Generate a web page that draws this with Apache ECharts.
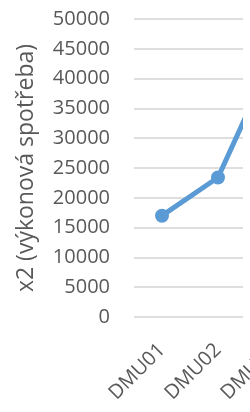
<!DOCTYPE html>
<html>
<head>
<meta charset="utf-8">
<script src="https://cdn.jsdelivr.net/npm/echarts@6/dist/echarts.min.js"></script>
<style>
  html, body { margin: 0; padding: 0; background: #fff; }
  #chart { width: 250px; height: 412px; }
</style>
</head>
<body>
<div id="chart"></div>
<script>
// data
const categories = ['DMU01', 'DMU02', 'DMU03']
const values = [17000, 23400, 44000]
const yTicks = { min: 0, max: 50000, interval: 5000 }
const yName = 'x2 (výkonová spotřeba)'

const font = 'Open Sans'
const gray = '#595959'

const chart = echarts.init(document.getElementById('chart'))
chart.setOption({
  animation: false,
  grid: {
    left: 134,
    top: 19,
    bottom: 95,
    width: 168, // 3 bands of 56px, the last one runs off the picture
    outerBoundsMode: 'none',
    containLabel: false
  },
  xAxis: {
    type: 'category',
    data: categories,
    boundaryGap: true,
    axisLine: { show: false },
    axisTick: { show: false },
    axisLabel: {
      interval: 0,
      rotate: 45,
      margin: 30,
      color: gray,
      fontSize: 20,
      fontFamily: font
    }
  },
  yAxis: {
    type: 'value',
    min: yTicks.min,
    max: yTicks.max,
    interval: yTicks.interval,
    name: yName,
    nameLocation: 'middle',
    nameGap: 96,
    nameTextStyle: {
      color: gray,
      fontSize: 23,
      fontFamily: font
    },
    axisLine: { show: false },
    axisTick: { show: false },
    axisLabel: {
      margin: 24,
      color: gray,
      fontSize: 20,
      fontFamily: font,
      formatter: v => String(v)
    },
    splitLine: {
      lineStyle: { color: '#dedede', width: 2 }
    }
  },
  // plot area of the original stops a few px before the right edge
  graphic: [{
    type: 'rect',
    z: 100,
    shape: { x: 243, y: 0, width: 10, height: 328 },
    style: { fill: '#fff' }
  }],
  series: [{
    type: 'line',
    data: values,
    symbol: 'circle',
    symbolSize: 14,
    lineStyle: { color: '#5b9bd5', width: 5 },
    itemStyle: { color: '#5b9bd5' }
  }]
})
</script>
</body>
</html>
